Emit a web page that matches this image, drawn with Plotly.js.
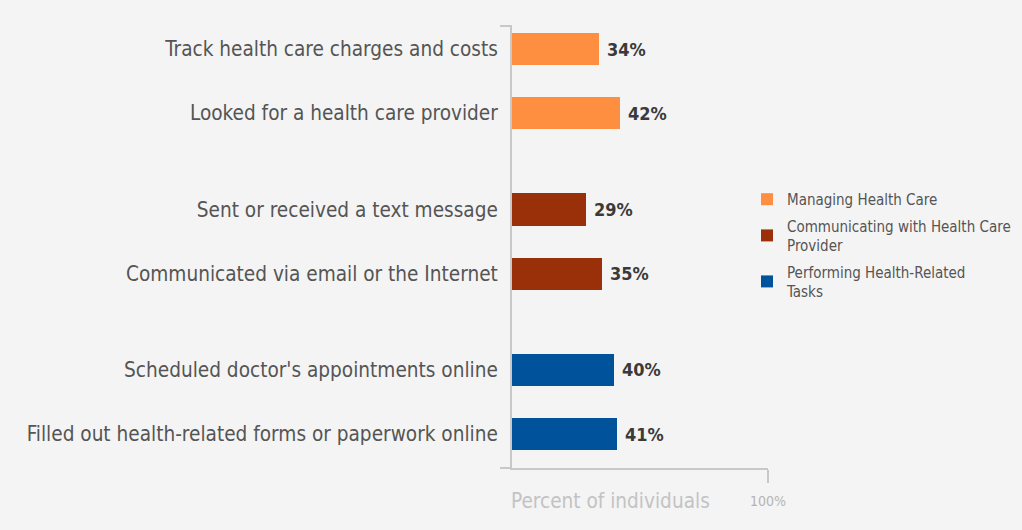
<!DOCTYPE html>
<html>
<head>
<meta charset="utf-8">
<script src="https://cdn.plot.ly/plotly-3.0.1.min.js"></script>
<style>
html,body{margin:0;padding:0;background:#f4f4f4;}
#chart{width:1022px;height:530px;}
</style>
</head>
<body>
<div id="chart"></div>
<script>
// ---- data ----
const categories = [
  "Track health care charges and costs",
  "Looked for a health care provider",
  "Sent or received a text message",
  "Communicated via email or the Internet",
  "Scheduled doctor's appointments online",
  "Filled out health-related forms or paperwork online"
];
const values = [34, 42, 29, 35, 40, 41];
const groupOf = [0, 0, 1, 1, 2, 2];
const groupNames = [
  "Managing Health Care",
  "Communicating with Health Care<br>Provider",
  "Performing Health-Related<br>Tasks"
];
const groupColors = ["#ff8f40", "#993009", "#00529b"];
const xTickVals = [100];
const xTickText = ["100%"];
const xAxisTitle = "Percent of individuals";

// ---- layout helpers (positions derived from group structure) ----
const GROUP_GAP = 0.5;
const pos = categories.map((c, i) => i + GROUP_GAP * groupOf[i]);
const yRange = [pos[pos.length - 1] + 0.53, pos[0] - 0.36];

const FONT = '"DejaVu Sans Condensed", "DejaVu Sans", sans-serif';
const AXIS_COLOR = "#c8c8c8";

const traces = groupNames.map((name, g) => {
  const idx = categories.map((c, i) => i).filter(i => groupOf[i] === g);
  return {
    type: "bar",
    orientation: "h",
    name: name,
    legendgroup: "g" + g,
    x: idx.map(i => values[i]),
    y: idx.map(i => pos[i]),
    width: 0.5,
    marker: {color: groupColors[g]},
    hoverinfo: "skip"
  };
});

const valueLabels = values.map((v, i) => ({
  text: "<b>" + v + "%</b>",
  xref: "x",
  yref: "y",
  x: v,
  y: pos[i],
  xanchor: "left",
  yanchor: "middle",
  xshift: 6,
  showarrow: false,
  font: {family: FONT, size: 18, color: "#3a3a3a"}
}));

const endTick = yp => ({
  type: "line",
  xref: "paper",
  yref: "paper",
  xsizemode: "pixel",
  xanchor: 0,
  x0: -12,
  x1: 0,
  y0: yp,
  y1: yp,
  line: {color: AXIS_COLOR, width: 2}
});

const layout = {
  width: 1022,
  height: 530,
  paper_bgcolor: "#f4f4f4",
  plot_bgcolor: "#f4f4f4",
  margin: {l: 512, r: 254, t: 26, b: 62, pad: 0, autoexpand: false},
  bargap: 0,
  showlegend: true,
  font: {family: FONT},
  xaxis: {
    range: [0, 100],
    showgrid: false,
    zeroline: false,
    showline: true,
    linecolor: AXIS_COLOR,
    linewidth: 2,
    tickmode: "array",
    tickvals: xTickVals,
    ticktext: xTickText,
    ticks: "outside",
    ticklen: 13,
    tickwidth: 2,
    tickcolor: AXIS_COLOR,
    ticklabelstandoff: 6,
    tickfont: {family: FONT, size: 14, color: "#b4b4b4"},
    automargin: false,
    fixedrange: true
  },
  yaxis: {
    range: yRange,
    showgrid: false,
    zeroline: false,
    showline: true,
    linecolor: AXIS_COLOR,
    linewidth: 2,
    tickmode: "array",
    tickvals: pos,
    ticktext: categories,
    ticks: "",
    ticklabelstandoff: 8,
    tickfont: {family: FONT, size: 20.6, color: "#555555"},
    automargin: false,
    fixedrange: true
  },
  legend: {
    x: 0.918,
    xanchor: "left",
    y: 0.645,
    yanchor: "top",
    bgcolor: "rgba(0,0,0,0)",
    font: {family: FONT, size: 15, color: "#555555"},
    traceorder: "grouped",
    tracegroupgap: 4,
    itemclick: false,
    itemdoubleclick: false
  },
  shapes: [endTick(1), endTick(0)],
  annotations: valueLabels.concat([{
    text: xAxisTitle,
    xref: "x",
    yref: "paper",
    x: 0,
    y: 0,
    xanchor: "left",
    yanchor: "top",
    yshift: -19,
    xshift: -3,
    showarrow: false,
    font: {family: FONT, size: 20.6, color: "#c3c3c3"}
  }])
};

Plotly.newPlot("chart", traces, layout, {displayModeBar: false, staticPlot: true});
</script>
</body>
</html>
